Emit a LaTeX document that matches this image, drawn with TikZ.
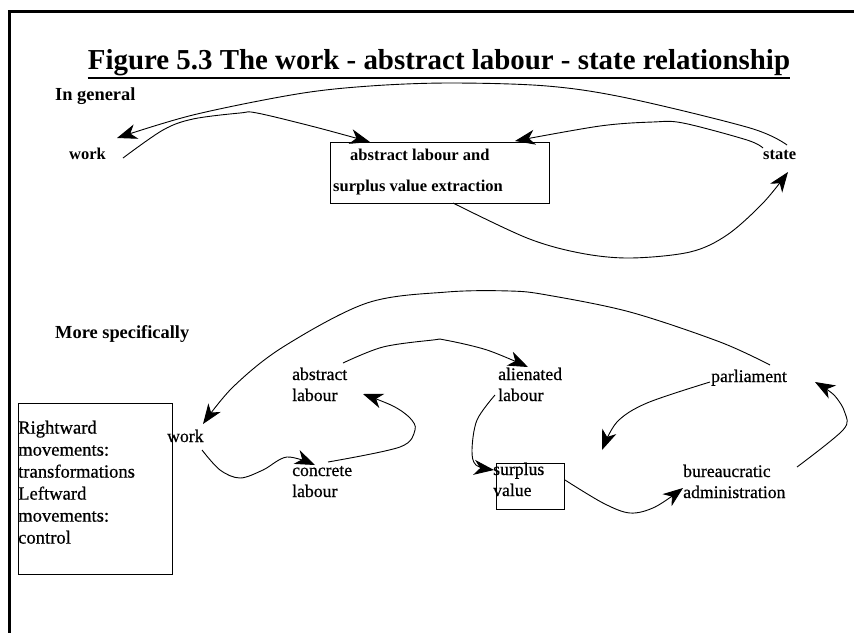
\documentclass[tikz,border=0pt]{standalone}
\usepackage{fontspec}
\setmainfont{Liberation Serif}
\newfontfamily\heavyserif[FakeBold=0.6]{Liberation Serif}
\usetikzlibrary{arrows.meta}
\begin{document}
\begin{tikzpicture}[x=1pt,y=-1pt,
  lbl/.style={inner sep=0pt, anchor=base west, font=\fontsize{16.5}{20}\selectfont\bfseries},
  blbl/.style={inner sep=0pt, anchor=base west, font=\fontsize{17.7}{21}\selectfont\heavyserif},
  hdr/.style={inner sep=0pt, anchor=base west, font=\fontsize{18.4}{22}\selectfont\bfseries},
  arr/.style={line width=0.9pt, -{Stealth[length=20pt,width=15pt,inset=6pt]}},
  box/.style={draw, line width=0.9pt, inner sep=0pt},
]
\useasboundingbox (0,0) rectangle (854,633);
\fill[white] (0,0) rectangle (854,633);
\draw[line width=3pt] (7.75,11.5) -- (854,11.5);
\draw[line width=3.5pt] (9.5,10) -- (9.5,633);

% title
\node[inner sep=0pt, anchor=base, font=\fontsize{28.9}{34}\selectfont\bfseries] (title) at (439,69) {Figure 5.3 The work - abstract labour - state relationship};
\draw[line width=2.5pt] ([yshift=-9pt]title.base west) -- ([yshift=-9pt]title.base east);

% top section
\node[hdr] (gen) at (55,100) {In general};
\node[lbl] (workT) at (69,159) {work};
\node[box, minimum width=219pt, minimum height=61pt] (extr) at (439.5,172.5) {};
\node[lbl] (extr1) at (350,160) {abstract labour and};
\node[lbl] (extr2) at (333,191) {surplus value extraction};
\node[lbl] (state) at (763,159) {state};

\coordinate (a0) at (123,158);
\coordinate (a1) at (370,142);
\draw[arr] plot[smooth, tension=0.55] coordinates {(a0) (163,130) (193,119) (240,113) (257,113) (315,127) (a1)};
\coordinate (b0) at (787,145);
\coordinate (b1) at (117,138);
\draw[arr] plot[smooth, tension=0.55] coordinates {(b0) (750,128) (627,98) (547,86) (450,83) (370,86) (297,94) (193,115) (b1)};
\coordinate (c0) at (763,148);
\coordinate (c1) at (515,141);
\draw[arr] plot[smooth, tension=0.55] coordinates {(c0) (747,140) (683,123) (653,122) (600,126) (c1)};
\coordinate (d0) at (453,203);
\coordinate (d1) at (788,172);
\draw[arr] plot[smooth, tension=0.55] coordinates {(d0) (527,238) (580,253) (630,258) (690,252) (727,235) (763,203) (d1)};

% bottom section
\node[hdr] (spec) at (55,338) {More specifically};
\node[box, minimum width=154pt, minimum height=171pt] (legend) at (95,488.5) {};
\node[inner sep=0pt, anchor=north west, align=left, font=\fontsize{18.6}{22}\selectfont\heavyserif] (legtxt) at (18,420.5) {Rightward\\movements:\\transformations\\Leftward\\movements:\\control};

\node[blbl] (workB) at (167,442) {work};
\node[blbl] (abs1) at (292,380) {abstract};
\node[blbl] (abs2) at (292,401) {labour};
\node[blbl] (con1) at (292,476) {concrete};
\node[blbl] (con2) at (292,497) {labour};
\node[blbl] (ali1) at (498,380) {alienated};
\node[blbl] (ali2) at (498,401) {labour};
\node[box, minimum width=68pt, minimum height=46pt] (sv) at (530,486) {};
\node[blbl] (sv1) at (493,475) {surplus};
\node[blbl] (sv2) at (493,496) {value};
\node[blbl] (bur1) at (683,477) {bureaucratic};
\node[blbl] (bur2) at (683,498) {administration};
\node[blbl] (parl) at (711,382) {parliament};

\coordinate (e0) at (770,365);
\coordinate (e1) at (203,424);
\draw[arr] plot[smooth, tension=0.55] coordinates {(e0) (720,342) (630,312) (547,295) (510,291) (447,292) (367,303) (283,347) (233,387) (e1)};
\coordinate (f0) at (343,363);
\coordinate (f1) at (528,367);
\draw[arr] plot[smooth, tension=0.55] coordinates {(f0) (383,347) (433,340) (445,340) (487,350) (f1)};
\coordinate (g0) at (495,395);
\coordinate (g1) at (494,470);
\draw[arr] plot[smooth, tension=0.55] coordinates {(g0) (477,420) (472,450) (476,465) (g1)};
\coordinate (h0) at (565,480);
\coordinate (h1) at (683,488);
\draw[arr] plot[smooth, tension=0.55] coordinates {(h0) (603,503) (630,513) (655,507) (h1)};
\coordinate (i0) at (797,467);
\coordinate (i1) at (815,382);
\draw[arr] plot[smooth, tension=0.55] coordinates {(i0) (843,430) (845,413) (834,395) (i1)};
\coordinate (j0) at (710,382);
\coordinate (j1) at (602,450);
\draw[arr] plot[smooth, tension=0.55] coordinates {(j0) (647,403) (617,422) (j1)};
\coordinate (k0) at (328,462);
\coordinate (k1) at (363,394);
\draw[arr] plot[smooth, tension=0.55] coordinates {(k0) (400,447) (415,430) (410,418) (393,406) (k1)};
\coordinate (l0) at (202,450);
\coordinate (l1) at (315,465);
\draw[arr] plot[smooth, tension=0.55] coordinates {(l0) (220,470) (240,478) (263,470) (287,457) (l1)};
\end{tikzpicture}
\end{document}
